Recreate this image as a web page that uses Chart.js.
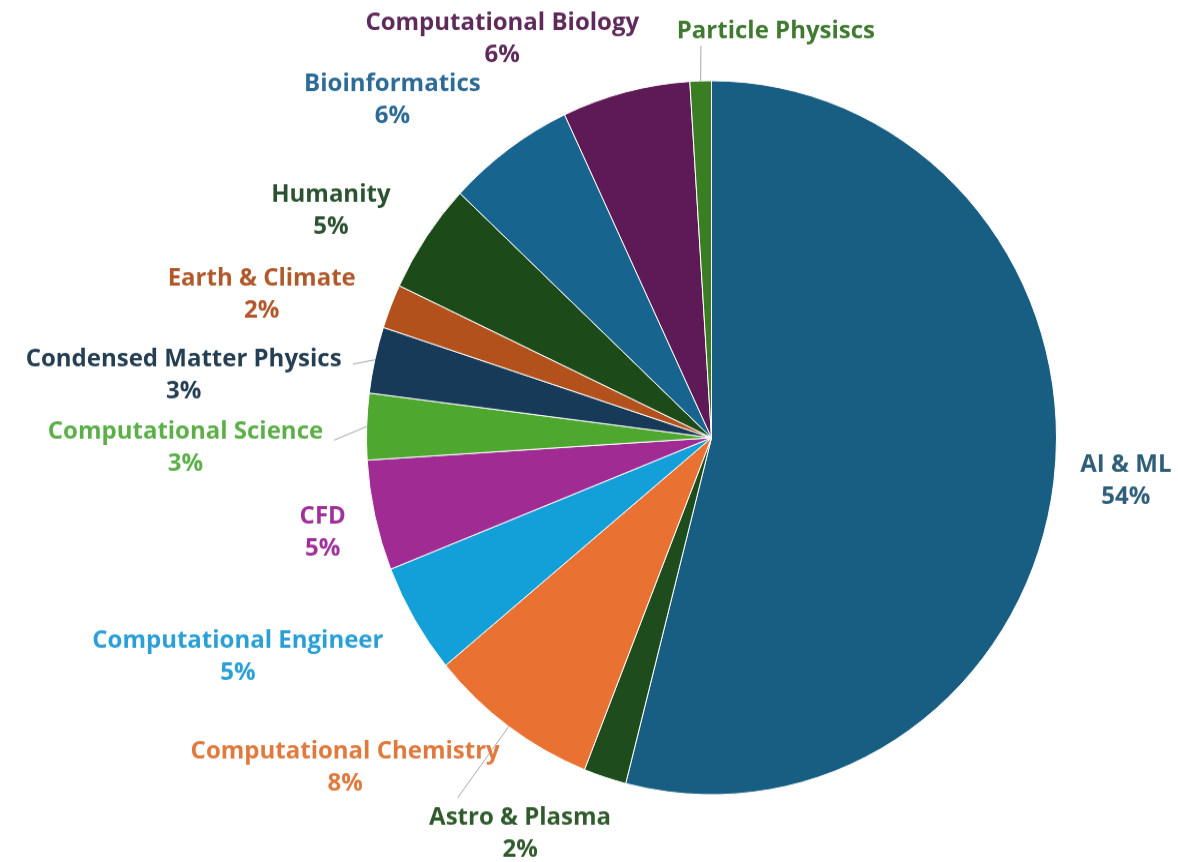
<!DOCTYPE html>
<html>
<head>
<meta charset="utf-8">
<title>Research domains</title>
<script src="https://cdn.jsdelivr.net/npm/chart.js@4.4.1/dist/chart.umd.min.js"></script>
<style>
  html { overflow: hidden; }
  html, body { margin: 0; padding: 0; background: #ffffff; }
  body { height: 862px; }
  #wrap {
    width: 1178px; height: 833px;
    transform: scale(1, 1.0348);
    transform-origin: 0 0;
  }
  canvas { display: block; }
</style>
</head>
<body>
<div id="wrap"><canvas id="pie" width="1178" height="833"></canvas></div>
<script>
// Share of usage by research domain (percent), clockwise from 12 o'clock
const categories = [
  'AI & ML', 'Astro & Plasma', 'Computational Chemistry', 'Computational Engineer',
  'CFD', 'Computational Science', 'Condensed Matter Physics', 'Earth & Climate',
  'Humanity', 'Bioinformatics', 'Computational Biology', 'Particle Physiscs'
];
const shares = [54, 2, 8, 5, 5, 3, 3, 2, 5, 6, 6, 1];
const hidePercent = ['Particle Physiscs'];

const sliceColors = [
  '#175e82', '#1f4c1c', '#e97132', '#139fd8', '#a02b93', '#4ea72e',
  '#163a57', '#b3511c', '#1c4a18', '#17648e', '#5e1a57', '#3b7d23'
];
const labelColors = [
  '#2f5e79', '#2f5a2b', '#e0793c', '#2a9fd6', '#a0309a', '#5caf48',
  '#243e52', '#b0582a', '#2a5230', '#2c6b96', '#5e2a5a', '#3f7a30'
];

// Label placement relative to each slice: angle shift (deg) from the slice
// middle and distance as a multiple of the outer radius.
const labelShift  = [-1.5, 8.6, 13.0, 6.5, -0.7, -2.9, -6.1, -4.5, -4.2, -8.4, -14.1, 11.1];
const labelRadius = [1.207, 1.239, 1.407, 1.504, 1.158, 1.525, 1.540, 1.364, 1.274, 1.322, 1.271, 1.155];
// Leader lines: label index -> start offset from the label centre
const leaders = { 2: [112.5, 29.5], 5: [148.5, -7.7], 6: [169.5, -11.1], 11: [-75, 14.5] };

const FONT = '700 24px "Open Sans", sans-serif';
const LINE_GAP = 31;

const outsideLabels = {
  id: 'outsideLabels',
  afterDatasetsDraw(chart) {
    const ctx = chart.ctx;
    const arcs = chart.getDatasetMeta(0).data;
    ctx.save();
    arcs.forEach((arc, i) => {
      const p = arc.getProps(['x', 'y', 'startAngle', 'endAngle', 'outerRadius'], true);
      const mid = (p.startAngle + p.endAngle) / 2;
      const a = mid + labelShift[i] * Math.PI / 180;
      const r = p.outerRadius * labelRadius[i];
      const lx = p.x + Math.cos(a) * r;
      const ly = p.y + Math.sin(a) * r;

      if (leaders[i]) {
        const ex = p.x + Math.cos(mid) * p.outerRadius;
        const ey = p.y + Math.sin(mid) * p.outerRadius;
        ctx.strokeStyle = '#a6a6a6';
        ctx.lineWidth = 1;
        ctx.beginPath();
        ctx.moveTo(lx + leaders[i][0], ly + leaders[i][1]);
        ctx.lineTo(ex, ey);
        ctx.stroke();
      }

      ctx.font = FONT;
      ctx.fillStyle = labelColors[i];
      ctx.textAlign = 'center';
      ctx.textBaseline = 'middle';
      const name = categories[i];
      if (hidePercent.includes(name)) {
        ctx.fillText(name, lx, ly);
      } else {
        ctx.fillText(name, lx, ly - LINE_GAP / 2);
        ctx.fillText(shares[i] + '%', lx, ly + LINE_GAP / 2);
      }
    });
    ctx.restore();
  }
};

new Chart(document.getElementById('pie'), {
  type: 'pie',
  data: {
    labels: categories,
    datasets: [{
      data: shares,
      backgroundColor: sliceColors,
      borderColor: '#ffffff',
      borderWidth: 1
    }]
  },
  options: {
    responsive: false,
    animation: false,
    radius: 345,
    layout: { padding: { left: 366, right: 121, top: 77, bottom: 64 } },
    plugins: {
      legend: { display: false },
      tooltip: { enabled: false }
    }
  },
  plugins: [outsideLabels]
});
</script>
</body>
</html>
